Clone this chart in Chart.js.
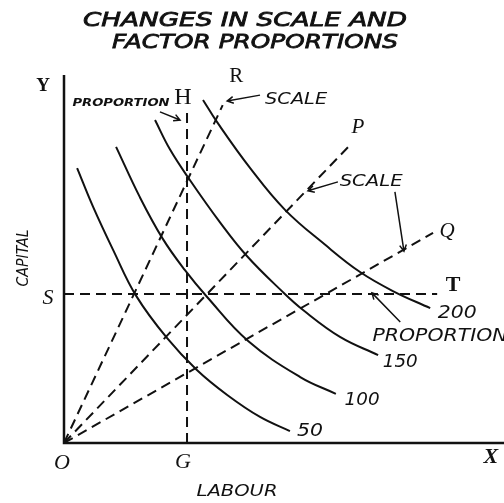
<!DOCTYPE html>
<html lang="en">
<head>
  <meta charset="UTF-8" />
  <title>Changes in Scale and Factor Proportions</title>
  <script src="https://cdn.jsdelivr.net/npm/chart.js"></script>
  <style>
    body { margin: 0; background: #fff; }
    #wrap { width: 504px; height: 503px; }
  </style>
</head>
<body>
  <div id="wrap"><canvas id="chart" width="504" height="503"></canvas></div>

  <script>
    // isoquants (labour, capital)
    const iso50  = [[0.32,7.38],[0.71,6.34],[1.20,5.18],[1.76,3.95],[2.51,2.82],[3.24,1.96],[3.98,1.29],[4.78,0.70],[5.51,0.32]];
    const iso100 = [[1.27,7.95],[1.85,6.60],[2.41,5.48],[2.95,4.64],[3.49,3.92],[4.49,2.74],[5.76,1.77],[6.63,1.32]];
    const iso150 = [[2.22,8.67],[2.59,7.87],[3.07,7.06],[3.80,5.93],[4.46,5.02],[5.34,4.05],[5.83,3.57],[6.73,2.85],[7.66,2.36]];
    const iso200 = [[3.39,9.21],[3.73,8.62],[4.54,7.38],[5.39,6.26],[6.37,5.32],[7.22,4.59],[8.02,4.08],[8.93,3.62]];

    // rays from the origin and the G / S guide lines
    const rayR = [[0,0],[3.87,9.07]];
    const rayP = [[0,0],[7.02,8.05]];
    const rayQ = [[0,0],[9.0,5.64]];
    const lineG = [[3,0],[3,8.86]];
    const lineS = [[0,4],[9.1,4]];

    const xMax = 10.73, yMax = 9.88;

    // text marks in data units: [text, x, y, font, width]
    const serif = '"Liberation Serif", "DejaVu Serif", serif';
    const sans = '"DejaVu Sans", "Liberation Sans", sans-serif';
    const marks = [
      ['Y', -0.51, 9.58, 'bold 19px ' + serif],
      ['H', 2.90, 9.26, '24px ' + serif],
      ['R', 4.20, 9.83, '21px ' + serif],
      ['P', 7.17, 8.46, 'italic 21px ' + serif],
      ['Q', 9.34, 5.69, 'italic 21px ' + serif],
      ['T', 9.49, 4.24, 'bold 22px ' + serif],
      ['S', -0.39, 3.89, 'italic 22px ' + serif],
      ['O', -0.05, -0.54, 'italic 22px ' + serif],
      ['G', 2.90, -0.51, 'italic 22px ' + serif],
      ['X', 10.41, -0.38, 'italic bold 22px ' + serif],
      ['200', 9.59, 3.49, 'italic 18px ' + sans, 39],
      ['150', 8.20, 2.17, 'italic 18px ' + sans, 35],
      ['100', 7.27, 1.15, 'italic 18px ' + sans, 35],
      ['50', 6.0, 0.30, 'italic 18px ' + sans, 26],
      ['PROPORTION', 1.39, 9.13, 'italic bold 11px ' + sans, 97],
      ['SCALE', 5.66, 9.21, 'italic 16px ' + sans, 62],
      ['SCALE', 7.49, 7.01, 'italic 16px ' + sans, 63],
      ['PROPORTION', 9.17, 2.85, 'italic 17px ' + sans, 135]
    ];
    const arrows = [
      [2.34,8.89, 2.83,8.67],
      [4.78,9.34, 3.98,9.18],
      [6.68,7.01, 5.95,6.77],
      [8.07,6.74, 8.29,5.15],
      [8.20,3.25, 7.51,4.03]
    ];

    const pts = a => a.map(p => ({ x: p[0], y: p[1] }));

    function drawFit(ctx, str, cx, cy, font, width, thick) {
      ctx.save();
      ctx.font = font;
      ctx.textAlign = 'center';
      ctx.textBaseline = 'middle';
      ctx.translate(cx, cy);
      if (width) ctx.scale(width / ctx.measureText(str).width, 1);
      ctx.fillText(str, 0, 0);
      if (thick) { ctx.lineWidth = thick; ctx.strokeText(str, 0, 0); }
      ctx.restore();
    }

    const notes = {
      id: 'notes',
      afterDatasetsDraw(chart) {
        const { ctx, scales: { x, y } } = chart;
        ctx.fillStyle = '#111';
        ctx.strokeStyle = '#111';
        marks.forEach(m => drawFit(ctx, m[0], x.getPixelForValue(m[1]), y.getPixelForValue(m[2]), m[3], m[4]));

        ctx.lineWidth = 1.5;
        arrows.forEach(a => {
          const x0 = x.getPixelForValue(a[0]), y0 = y.getPixelForValue(a[1]);
          const x1 = x.getPixelForValue(a[2]), y1 = y.getPixelForValue(a[3]);
          const ang = Math.atan2(y1 - y0, x1 - x0);
          ctx.beginPath();
          ctx.moveTo(x0, y0); ctx.lineTo(x1, y1);
          ctx.moveTo(x1 - 7 * Math.cos(ang - 0.5), y1 - 7 * Math.sin(ang - 0.5));
          ctx.lineTo(x1, y1);
          ctx.lineTo(x1 - 7 * Math.cos(ang + 0.5), y1 - 7 * Math.sin(ang + 0.5));
          ctx.stroke();
        });

        // title and axis names
        drawFit(ctx, 'CHANGES IN SCALE AND', 245, 21, 'italic 20px ' + sans, 324, 0.8);
        drawFit(ctx, 'FACTOR PROPORTIONS', 255, 43, 'italic 20px ' + sans, 286, 0.8);
        drawFit(ctx, 'LABOUR', 237, 492, 'italic 16px ' + sans, 81);
        ctx.save();
        ctx.translate(24, 258);
        ctx.rotate(-Math.PI / 2);
        drawFit(ctx, 'CAPITAL', 0, 0, 'italic 16px ' + sans, 57);
        ctx.restore();
      }
    };

    const curve = data => ({
      data: pts(data), showLine: true, borderColor: '#111', borderWidth: 2,
      pointRadius: 0, tension: 0.4, clip: false
    });
    const dashed = data => ({
      data: pts(data), showLine: true, borderColor: '#111', borderWidth: 2,
      borderDash: [10, 6], pointRadius: 0, clip: false
    });
    const axis = data => ({
      data: pts(data), showLine: true, borderColor: '#111', borderWidth: 2.5,
      pointRadius: 0, clip: false
    });

    new Chart(document.getElementById('chart'), {
      type: 'scatter',
      data: {
        datasets: [
          axis([[0, yMax], [0, 0], [xMax, 0]]),
          curve(iso50), curve(iso100), curve(iso150), curve(iso200),
          dashed(rayR), dashed(rayP), dashed(rayQ), dashed(lineG), dashed(lineS)
        ]
      },
      options: {
        responsive: false,
        animation: false,
        layout: { padding: { left: 64, right: 0, top: 75, bottom: 60 } },
        scales: {
          x: { type: 'linear', min: 0, max: xMax, display: false },
          y: { type: 'linear', min: 0, max: yMax, display: false }
        },
        plugins: { legend: { display: false }, tooltip: { enabled: false } }
      },
      plugins: [notes]
    });
  </script>
</body>
</html>
